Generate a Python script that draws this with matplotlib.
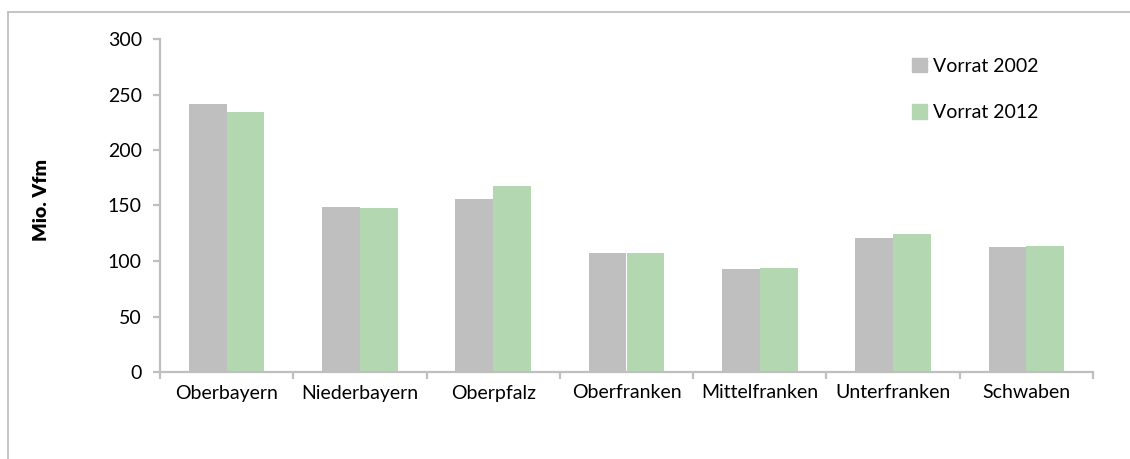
import matplotlib
matplotlib.use("Agg")
import matplotlib.pyplot as plt
from matplotlib.lines import Line2D
from matplotlib.patches import Patch
import numpy as np

plt.rcParams['font.family'] = ['Lato', 'DejaVu Sans']

regions = ["Oberbayern", "Niederbayern", "Oberpfalz", "Oberfranken",
           "Mittelfranken", "Unterfranken", "Schwaben"]
vorrat_2002 = [241.5, 148.9, 155.9, 106.9, 93.2, 120.4, 112.9]
vorrat_2012 = [234.0, 147.4, 167.6, 107.5, 94.1, 124.0, 113.5]
series_labels = ["Vorrat 2002", "Vorrat 2012"]
y_ticks = [0, 50, 100, 150, 200, 250, 300]

W, H = 1130, 459
fig = plt.figure(figsize=(W / 100, H / 100), dpi=100)
ax = fig.add_axes([160 / W, 1 - 372 / H, (1093 - 160) / W, (372 - 39) / H])

axis_grey = "#BFBFBF"
c2002 = "#BFBFBF"
c2012 = "#B3D8B1"
fs = 14

x = np.arange(len(regions))
bw = 0.283
ax.bar(x - bw / 2, vorrat_2002, width=bw, color=c2002, label=series_labels[0])
ax.bar(x + bw / 2, vorrat_2012, width=bw, color=c2012, label=series_labels[1])

ax.set_xlim(-0.5, len(regions) - 0.5)
ax.set_ylim(0, 300)
ax.set_yticks(y_ticks)
ax.set_xticks(x)
ax.set_xticklabels(regions)
ax.set_xticks(np.arange(-0.5, len(regions)), minor=True)

for s in ("top", "right"):
    ax.spines[s].set_visible(False)
for s in ("left", "bottom"):
    ax.spines[s].set_color(axis_grey)
    ax.spines[s].set_linewidth(1.6)

ax.tick_params(axis="y", direction="out", length=5, width=1.6, color=axis_grey,
               labelsize=fs, pad=8)
ax.tick_params(axis="x", which="major", length=0, labelsize=fs, pad=9)
ax.tick_params(axis="x", which="minor", direction="out", length=5, width=1.6,
               color=axis_grey)

ax.set_ylabel("Mio. Vfm", fontsize=14, fontweight="heavy")
ax.yaxis.set_label_coords(50 / W, 1 - 200 / H, transform=fig.transFigure)

handles = [Patch(color=c2002), Patch(color=c2012)]
ax.legend(handles, series_labels, loc="upper left",
          bbox_to_anchor=(912 / W, 1 - 58 / H), bbox_transform=fig.transFigure,
          frameon=False, fontsize=fs, handlelength=0.75, handleheight=0.75,
          handletextpad=0.35, labelspacing=1.5, borderpad=0, borderaxespad=0)

# chart area frame (top and left edges)
fig.add_artist(Line2D([7.5 / W, 1.0], [1 - 12 / H, 1 - 12 / H],
                      transform=fig.transFigure, color=axis_grey, lw=1.3))
fig.add_artist(Line2D([7.5 / W, 7.5 / W], [0.0, 1 - 12 / H],
                      transform=fig.transFigure, color=axis_grey, lw=1.3))

fig.savefig("out.png", dpi=100)
